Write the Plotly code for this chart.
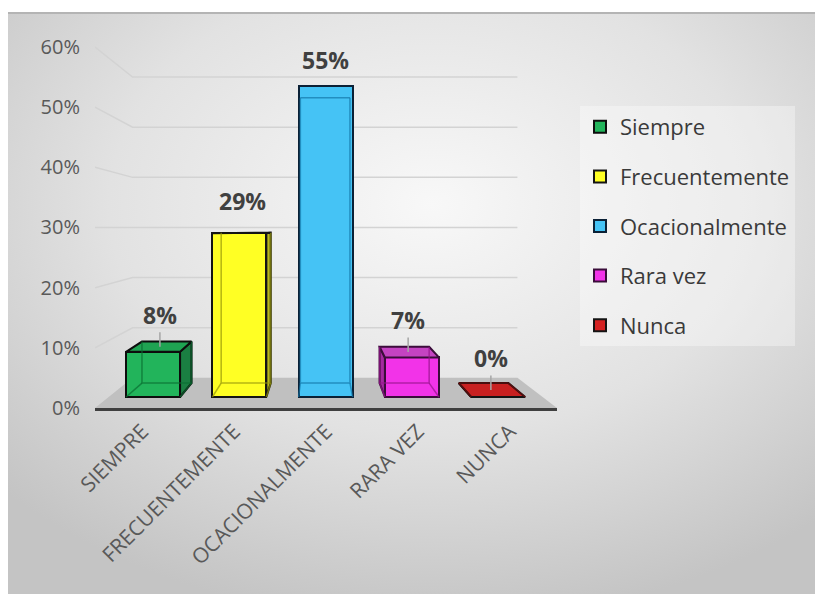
import base64
import plotly.graph_objects as go

# ---------------- data ----------------
categories = ["Siempre", "Frecuentemente", "Ocacionalmente", "Rara vez", "Nunca"]
tick_labels = ["SIEMPRE", "FRECUENTEMENTE", "OCACIONALMENTE", "RARA VEZ", "NUNCA"]
values = [8, 29, 55, 7, 0]
y_ticks = [0, 10, 20, 30, 40, 50, 60]

# ---------------- styles ----------------
front_colors = ["#22b45b", "#ffff24", "#45c3f5", "#f233e8", "#d42222"]
side_colors = ["#1a7f42", "#b8b81a", "#2a8fbf", "#a42aa0", "#8a1414"]
top_colors = ["#1fa352", "#e8e81e", "#5cd0f8", "#c443c2", "#c82020"]
edge_colors = ["#0d0d0d", "#141414", "#0b2136", "#3a0d3a", "#141414"]
inner_colors = ["rgba(10,110,50,0.7)", "rgba(150,150,10,0.7)", "rgba(20,120,170,0.7)",
                "rgba(150,20,140,0.7)", "rgba(120,10,10,0.7)"]
TEXT_GREY = "#595959"
LABEL_GREY = "#404040"
FONT = "Open Sans"

# perspective model (data coordinates of the front plane)
X_RANGE = [-0.514, 4.514]
Y_RANGE = [0, 61.16]
VP_X, VP_Y = 1.934, 30.0
S_BAR_FRONT, S_BAR_BACK, S_FLOOR_BACK = 0.939, 0.862, 0.833
HALF_W = 0.313


def proj(x, y, s):
    return VP_X + s * (x - VP_X), VP_Y + s * (y - VP_Y)


def poly(points):
    xs = [p[0] for p in points] + [points[0][0]]
    ys = [p[1] for p in points] + [points[0][1]]
    return xs, ys


def svg_path(points, close=True):
    d = "M " + " L ".join(f"{p[0]:.4f},{p[1]:.4f}" for p in points)
    return d + (" Z" if close else "")


fig = go.Figure()
shapes = []

# back / side wall gridlines (drawn below the traces)
for v in y_ticks[1:]:
    pts = [proj(X_RANGE[0], v, 1.0), proj(X_RANGE[0], v, S_FLOOR_BACK), proj(X_RANGE[1], v, S_FLOOR_BACK)]
    shapes.append(dict(type="path", path=svg_path(pts, close=False), xref="x", yref="y",
                       line=dict(color="#d3d3d3", width=1.5), layer="below"))

# floor
floor_pts = [proj(X_RANGE[0], 0, 1.0), proj(X_RANGE[1], 0, 1.0),
             proj(X_RANGE[1], 0, S_FLOOR_BACK), proj(X_RANGE[0], 0, S_FLOOR_BACK)]
shapes.append(dict(type="path", path=svg_path(floor_pts), xref="x", yref="y",
                   fillcolor="#c0c0c0", line=dict(width=0), layer="below"))

annotations = []
for i, (name, v) in enumerate(zip(categories, values)):
    xl, xr = i - HALF_W, i + HALF_W
    F = lambda x, y: proj(x, y, S_BAR_FRONT)
    B = lambda x, y: proj(x, y, S_BAR_BACK)
    edge = dict(color=edge_colors[i], width=2)

    # front face as a real bar
    cx, base = F(i, 0)
    _, top = F(i, v)
    fig.add_trace(go.Bar(x=[cx], y=[top - base], base=[base], width=[2 * HALF_W * S_BAR_FRONT],
                         name=name, legendgroup=name,
                         marker=dict(color=front_colors[i], line=dict(color=edge_colors[i], width=2)),
                         hoverinfo="skip"))

    # visible side / top faces
    faces = []
    if xl > VP_X:
        faces.append(([F(xl, 0), B(xl, 0), B(xl, v), F(xl, v)], side_colors[i]))
    if xr < VP_X:
        faces.append(([F(xr, 0), B(xr, 0), B(xr, v), F(xr, v)], side_colors[i]))
    if v < VP_Y:
        faces.append(([F(xl, v), F(xr, v), B(xr, v), B(xl, v)], top_colors[i]))
    for pts, col in faces:
        px, py = poly(pts)
        fig.add_trace(go.Scatter(x=px, y=py, mode="lines", fill="toself", fillcolor=col,
                                 line=edge, hoverinfo="skip", showlegend=False, legendgroup=name))

    # hidden edges seen through the front (semi-transparent look)
    ix, iy = [], []
    for seg in ([B(xl, v), B(xl, 0), B(xr, 0), B(xr, v)],
                [F(xl, 0), B(xl, 0)], [F(xr, 0), B(xr, 0)]):
        for p in seg:
            ix.append(p[0]); iy.append(p[1])
        ix.append(None); iy.append(None)
    if v >= VP_Y:
        ix += [B(xl, v)[0], B(xr, v)[0], None]
        iy += [B(xl, v)[1], B(xr, v)[1], None]
    fig.add_trace(go.Scatter(x=ix, y=iy, mode="lines", line=dict(color=inner_colors[i], width=1.5),
                             hoverinfo="skip", showlegend=False, legendgroup=name))

    # data label
    lx, ly = proj(i, v, (S_BAR_FRONT + S_BAR_BACK) / 2)
    annotations.append(dict(x=lx, y=ly, xref="x", yref="y", text=f"<b>{v}%</b>",
                            showarrow=True, ax=0, ay=-32, arrowhead=0, arrowwidth=1.5,
                            arrowcolor="#a6a6a6" if v < 10 else "rgba(0,0,0,0)",
                            font=dict(family=FONT, size=23, color=LABEL_GREY)))

# ---------------- layout (page has an 8px body margin) ----------------
OFF = 8
W, H = 823 - OFF, 594 - OFF
PLOT_L, PLOT_R, PLOT_T, PLOT_B = 95 - OFF, 557 - OFF, 40 - OFF, 408 - OFF
pw, ph = PLOT_R - PLOT_L, PLOT_B - PLOT_T


def paper_x(px):
    return (px - OFF - PLOT_L) / pw


def paper_y(py):
    return (PLOT_B - (py - OFF)) / ph


bg_w, bg_h = 823 - 8, 594 - 12
svg = (f"<svg xmlns='http://www.w3.org/2000/svg' width='{bg_w}' height='{bg_h}' "
       f"viewBox='0 0 {bg_w} {bg_h}' preserveAspectRatio='none'><defs>"
       "<radialGradient id='g' cx='0.52' cy='0.33' r='0.72'>"
       "<stop offset='0' stop-color='#f8f8f8'/><stop offset='0.55' stop-color='#e2e2e2'/>"
       "<stop offset='1' stop-color='#c4c4c4'/></radialGradient></defs>"
       f"<rect width='{bg_w}' height='{bg_h}' fill='url(#g)'/>"
       f"<rect width='{bg_w}' height='2' fill='#b4b4b4'/></svg>")
src = "data:image/svg+xml;base64," + base64.b64encode(svg.encode()).decode()

fig.update_layout(
    width=W, height=H, autosize=False,
    margin=dict(l=PLOT_L, r=W - PLOT_R, t=PLOT_T, b=H - PLOT_B, pad=0),
    paper_bgcolor="white", plot_bgcolor="rgba(0,0,0,0)",
    barmode="overlay", bargap=0,
    showlegend=True,
    legend=dict(x=paper_x(580), y=paper_y(106), xanchor="left", yanchor="top",
                bgcolor="rgba(255,255,255,0.35)", borderwidth=0,
                font=dict(family=FONT, size=22, color="#3a3a3a"),
                tracegroupgap=18, traceorder="grouped"),
    images=[dict(source=src, xref="paper", yref="paper",
                 x=paper_x(8), y=paper_y(12),
                 sizex=bg_w / pw, sizey=bg_h / ph,
                 xanchor="left", yanchor="top", sizing="stretch", layer="below")],
    shapes=shapes,
    annotations=annotations,
    xaxis=dict(range=X_RANGE, tickvals=list(range(len(tick_labels))), ticktext=tick_labels,
               tickangle=-45, showgrid=False, zeroline=False, showline=True,
               linecolor="#3f3f3f", linewidth=3, ticks="", automargin=False,
               tickfont=dict(family=FONT, size=21, color=TEXT_GREY), fixedrange=True),
    yaxis=dict(range=Y_RANGE, tickvals=y_ticks, ticktext=[f"{t}%" for t in y_ticks],
               showgrid=False, zeroline=False, showline=False, ticks="",
               ticklabelstandoff=14, automargin=False,
               tickfont=dict(family=FONT, size=20, color=TEXT_GREY), fixedrange=True),
)

fig.write_html("out.html")
